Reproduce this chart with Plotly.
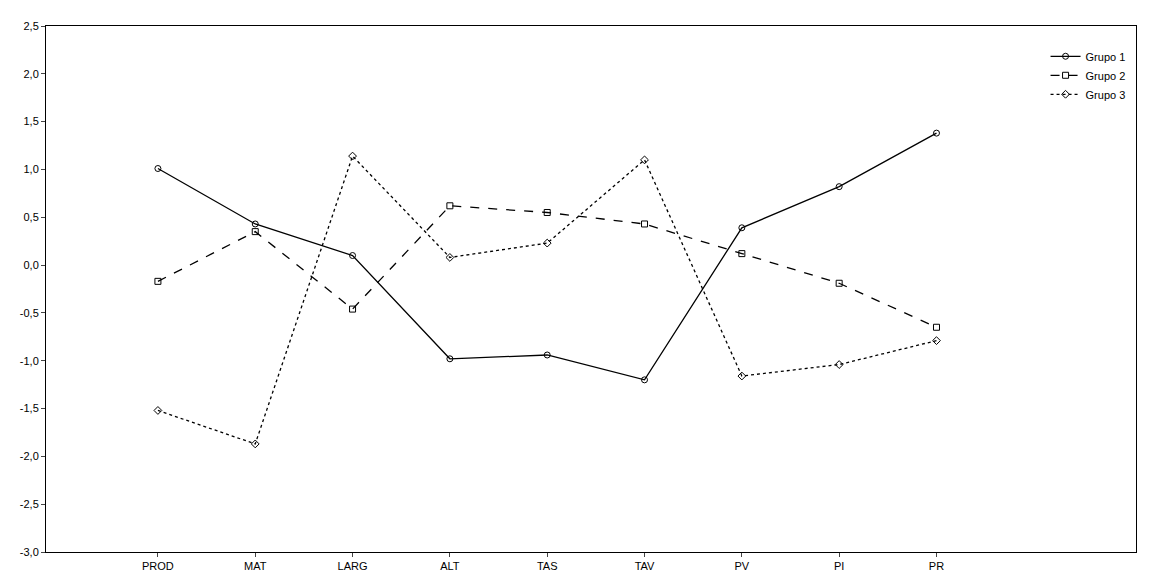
import plotly.graph_objects as go

categories = ["PROD", "MAT", "LARG", "ALT", "TAS", "TAV", "PV", "PI", "PR"]
grupo1 = [1.01, 0.43, 0.10, -0.98, -0.94, -1.20, 0.39, 0.82, 1.38]
grupo2 = [-0.17, 0.35, -0.46, 0.62, 0.55, 0.43, 0.12, -0.19, -0.65]
grupo3 = [-1.52, -1.87, 1.14, 0.08, 0.23, 1.10, -1.16, -1.04, -0.79]
yticks = [-3.0, -2.5, -2.0, -1.5, -1.0, -0.5, 0.0, 0.5, 1.0, 1.5, 2.0, 2.5]
yticklabels = [f"{v:.1f}".replace(".", ",") for v in yticks]

x = list(range(len(categories)))
fig = go.Figure()
for name, vals, dash, sym in [("Grupo 1", grupo1, "solid", "circle-open"),
                              ("Grupo 2", grupo2, "dash", "square-open"),
                              ("Grupo 3", grupo3, "dot", "diamond-open")]:
    fig.add_trace(go.Scatter(x=x, y=vals, name=name, mode="lines+markers",
                             line=dict(color="black", width=1.3, dash=dash),
                             marker=dict(symbol=sym, size=6, color="black", line=dict(width=1))))
fig.update_layout(
    width=1150, height=576, plot_bgcolor="white", paper_bgcolor="white",
    margin=dict(l=32, r=22, t=12, b=29),
    font=dict(family="Liberation Sans, Arial", size=11, color="black"),
    legend=dict(x=0.995, y=0.97, xanchor="right", yanchor="top", bgcolor="rgba(0,0,0,0)",
                font=dict(size=11), itemwidth=30, tracegroupgap=0),
)
fig.update_xaxes(range=[-1.15, 10.05], tickvals=x, ticktext=categories, showgrid=False,
                 showline=True, linecolor="black", mirror=True, ticks="outside", ticklen=4, zeroline=False)
fig.update_yaxes(range=[-3.0, 2.5], tickvals=yticks, ticktext=yticklabels, showgrid=False,
                 showline=True, linecolor="black", mirror=True, ticks="outside", ticklen=4, zeroline=False)
fig.write_html("out.html")
